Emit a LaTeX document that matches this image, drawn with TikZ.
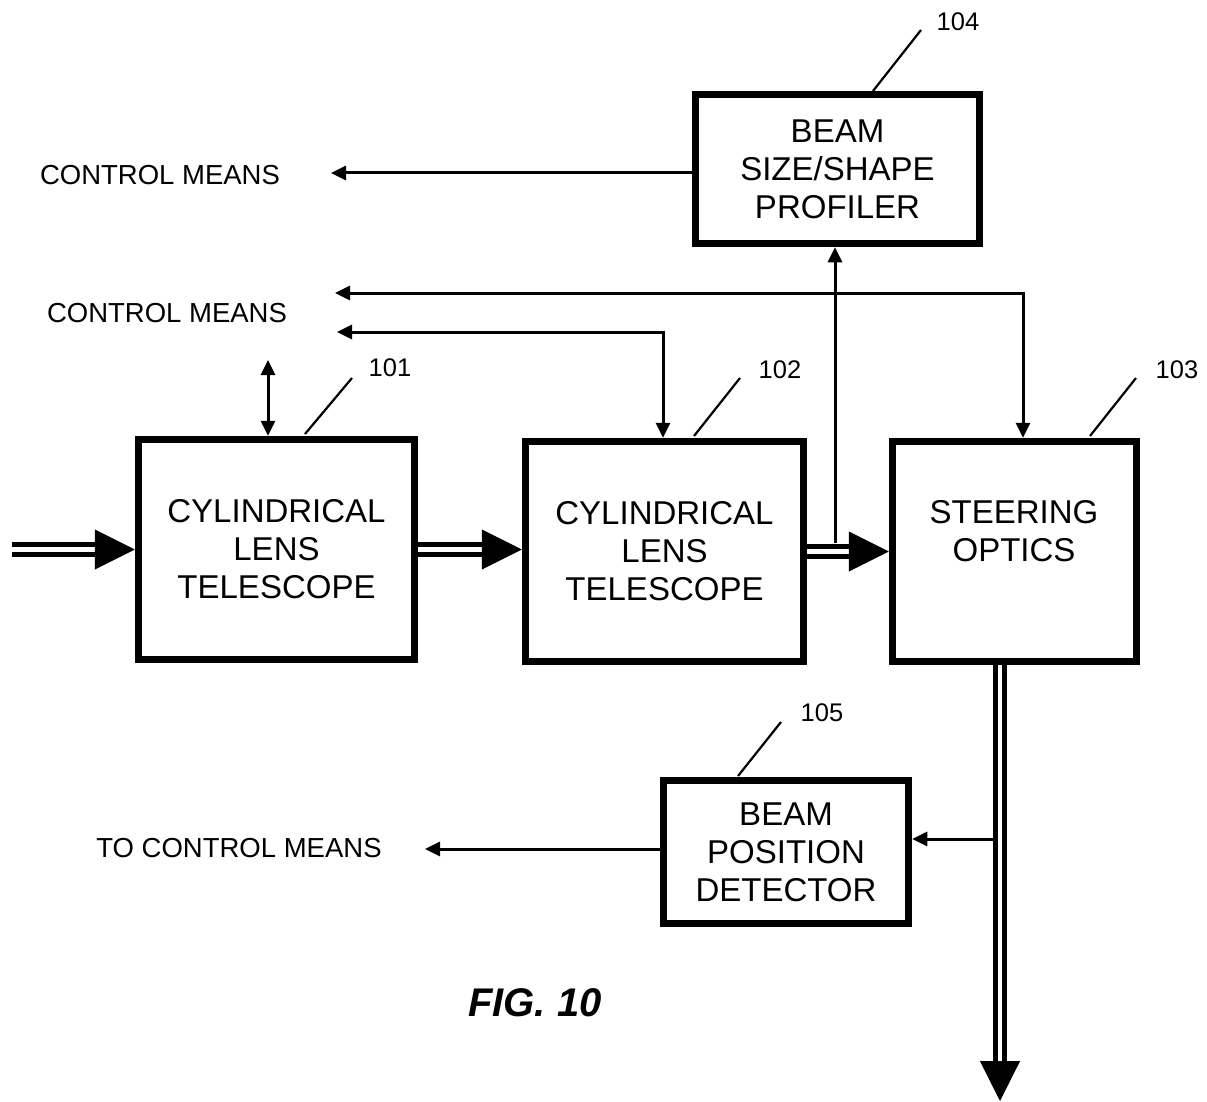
\documentclass[tikz,border=0pt]{standalone}
\usepackage{fontspec}
\setmainfont{Liberation Sans}
\usetikzlibrary{arrows.meta,calc}
\begin{document}
\begin{tikzpicture}[x=1pt,y=-1pt,
  box/.style={draw, line width=7.5pt, inner sep=0pt},
  boxtext/.style={font=\fontsize{33}{38}\selectfont, align=center, inner sep=0pt},
  lbl/.style={font=\fontsize{27.5}{30}\selectfont, inner sep=0pt},
  num/.style={font=\fontsize{25.5}{28}\selectfont, inner sep=0pt},
  leader/.style={line width=2.2pt},
  sig/.style={line width=3pt},
  tip/.style={-{Triangle[length=15pt,width=14pt]}},
  tips/.style={{Triangle[length=15pt,width=14pt]}-{Triangle[length=15pt,width=14pt]}},
  beam/.style={double, double distance=4.5pt, line width=5pt},
  bighead/.style={-{Triangle[length=40pt,width=40pt]}, line width=1pt},
]
\useasboundingbox (0,0) rectangle (1207,1102);

% boxes
\node[box, minimum width=276pt, minimum height=220pt] (b101) at (276.5,549.5) {};
\node[boxtext] (t101) at (b101) {CYLINDRICAL\\LENS\\TELESCOPE};
\node[box, minimum width=278pt, minimum height=220pt] (b102) at (664.5,551.5) {};
\node[boxtext] (t102) at (b102) {CYLINDRICAL\\LENS\\TELESCOPE};
\node[box, minimum width=244pt, minimum height=220pt] (b103) at (1014.5,551.5) {};
\node[boxtext] (t103) at (1014,531) {STEERING\\OPTICS};
\node[box, minimum width=284pt, minimum height=149pt] (b104) at (837.5,169) {};
\node[boxtext] (t104) at (b104) {BEAM\\SIZE/SHAPE\\PROFILER};
\node[box, minimum width=245pt, minimum height=143pt] (b105) at (786,852) {};
\node[boxtext] (t105) at (b105) {BEAM\\POSITION\\DETECTOR};

% labels
\node[lbl] (cm1) at (160,175) {CONTROL MEANS};
\node[lbl] (cm2) at (167,313) {CONTROL MEANS};
\node[lbl] (cm3) at (239,848) {TO CONTROL MEANS};

% reference numerals
\node[num] (n101) at (390,368) {101};
\node[num] (n102) at (780,370) {102};
\node[num] (n103) at (1177,370) {103};
\node[num] (n104) at (958,22) {104};
\node[num] (n105) at (822,713) {105};

\coordinate (l101a) at (305,434); \coordinate (l101b) at (352,378);
\coordinate (l102a) at (694,436); \coordinate (l102b) at (740,378);
\coordinate (l103a) at (1090,436); \coordinate (l103b) at (1136,378);
\coordinate (l104a) at (873,91); \coordinate (l104b) at (921,30);
\coordinate (l105a) at (738,776); \coordinate (l105b) at (781,722);
\draw[leader] (l101a) -- (l101b);
\draw[leader] (l102a) -- (l102b);
\draw[leader] (l103a) -- (l103b);
\draw[leader] (l104a) -- (l104b);
\draw[leader] (l105a) -- (l105b);

% beam (double) arrows
\coordinate (in) at (12,549.5);
\draw[beam] (in) -- ($(b101.west)+(-38,0)$);
\draw[bighead] ($(b101.west)+(-40,0)$) -- (b101.west);

\coordinate (e12) at (b101.east -| b102.west);
\draw[beam] (b101.east) -- ($(e12)+(-38,0)$);
\draw[bighead] ($(e12)+(-40,0)$) -- (e12);

\draw[beam] (b102.east) -- ($(b103.west)+(-38,0)$);
\draw[bighead] ($(b103.west)+(-40,0)$) -- (b103.west);

\coordinate (dtop) at (1000,665);
\coordinate (dend) at (1000,1101);
\draw[beam] (dtop) -- ($(dend)+(0,-38)$);
\draw[bighead] ($(dend)+(0,-40)$) -- (dend);

% signal lines
\coordinate (cm1tip) at (331,173);
\draw[sig,tip] (b104.west |- cm1tip) -- (cm1tip);

\coordinate (j) at (835,543);
\draw[sig,tip] (j) -- (j |- b104.south);

\coordinate (c3) at (335,293);
\coordinate (k3) at (1023,293);
\draw[sig,tips] (c3) -- (k3) -- (k3 |- b103.north);

\coordinate (c2) at (337,332);
\coordinate (k2) at (663,332);
\draw[sig,tips] (c2) -- (k2) -- (k2 |- b102.north);

\coordinate (u1) at (268,360);
\draw[sig,tips] (u1) -- (u1 |- b101.north);

\coordinate (br) at (995,839);
\draw[sig,tip] (br) -- (br -| b105.east);

\coordinate (tcm) at (425,849);
\draw[sig,tip] (b105.west |- tcm) -- (tcm);

% caption
\node[font=\fontsize{40}{44}\selectfont\bfseries\itshape, inner sep=0pt] (fig) at (535,1003) {FIG. 10};
\end{tikzpicture}
\end{document}
